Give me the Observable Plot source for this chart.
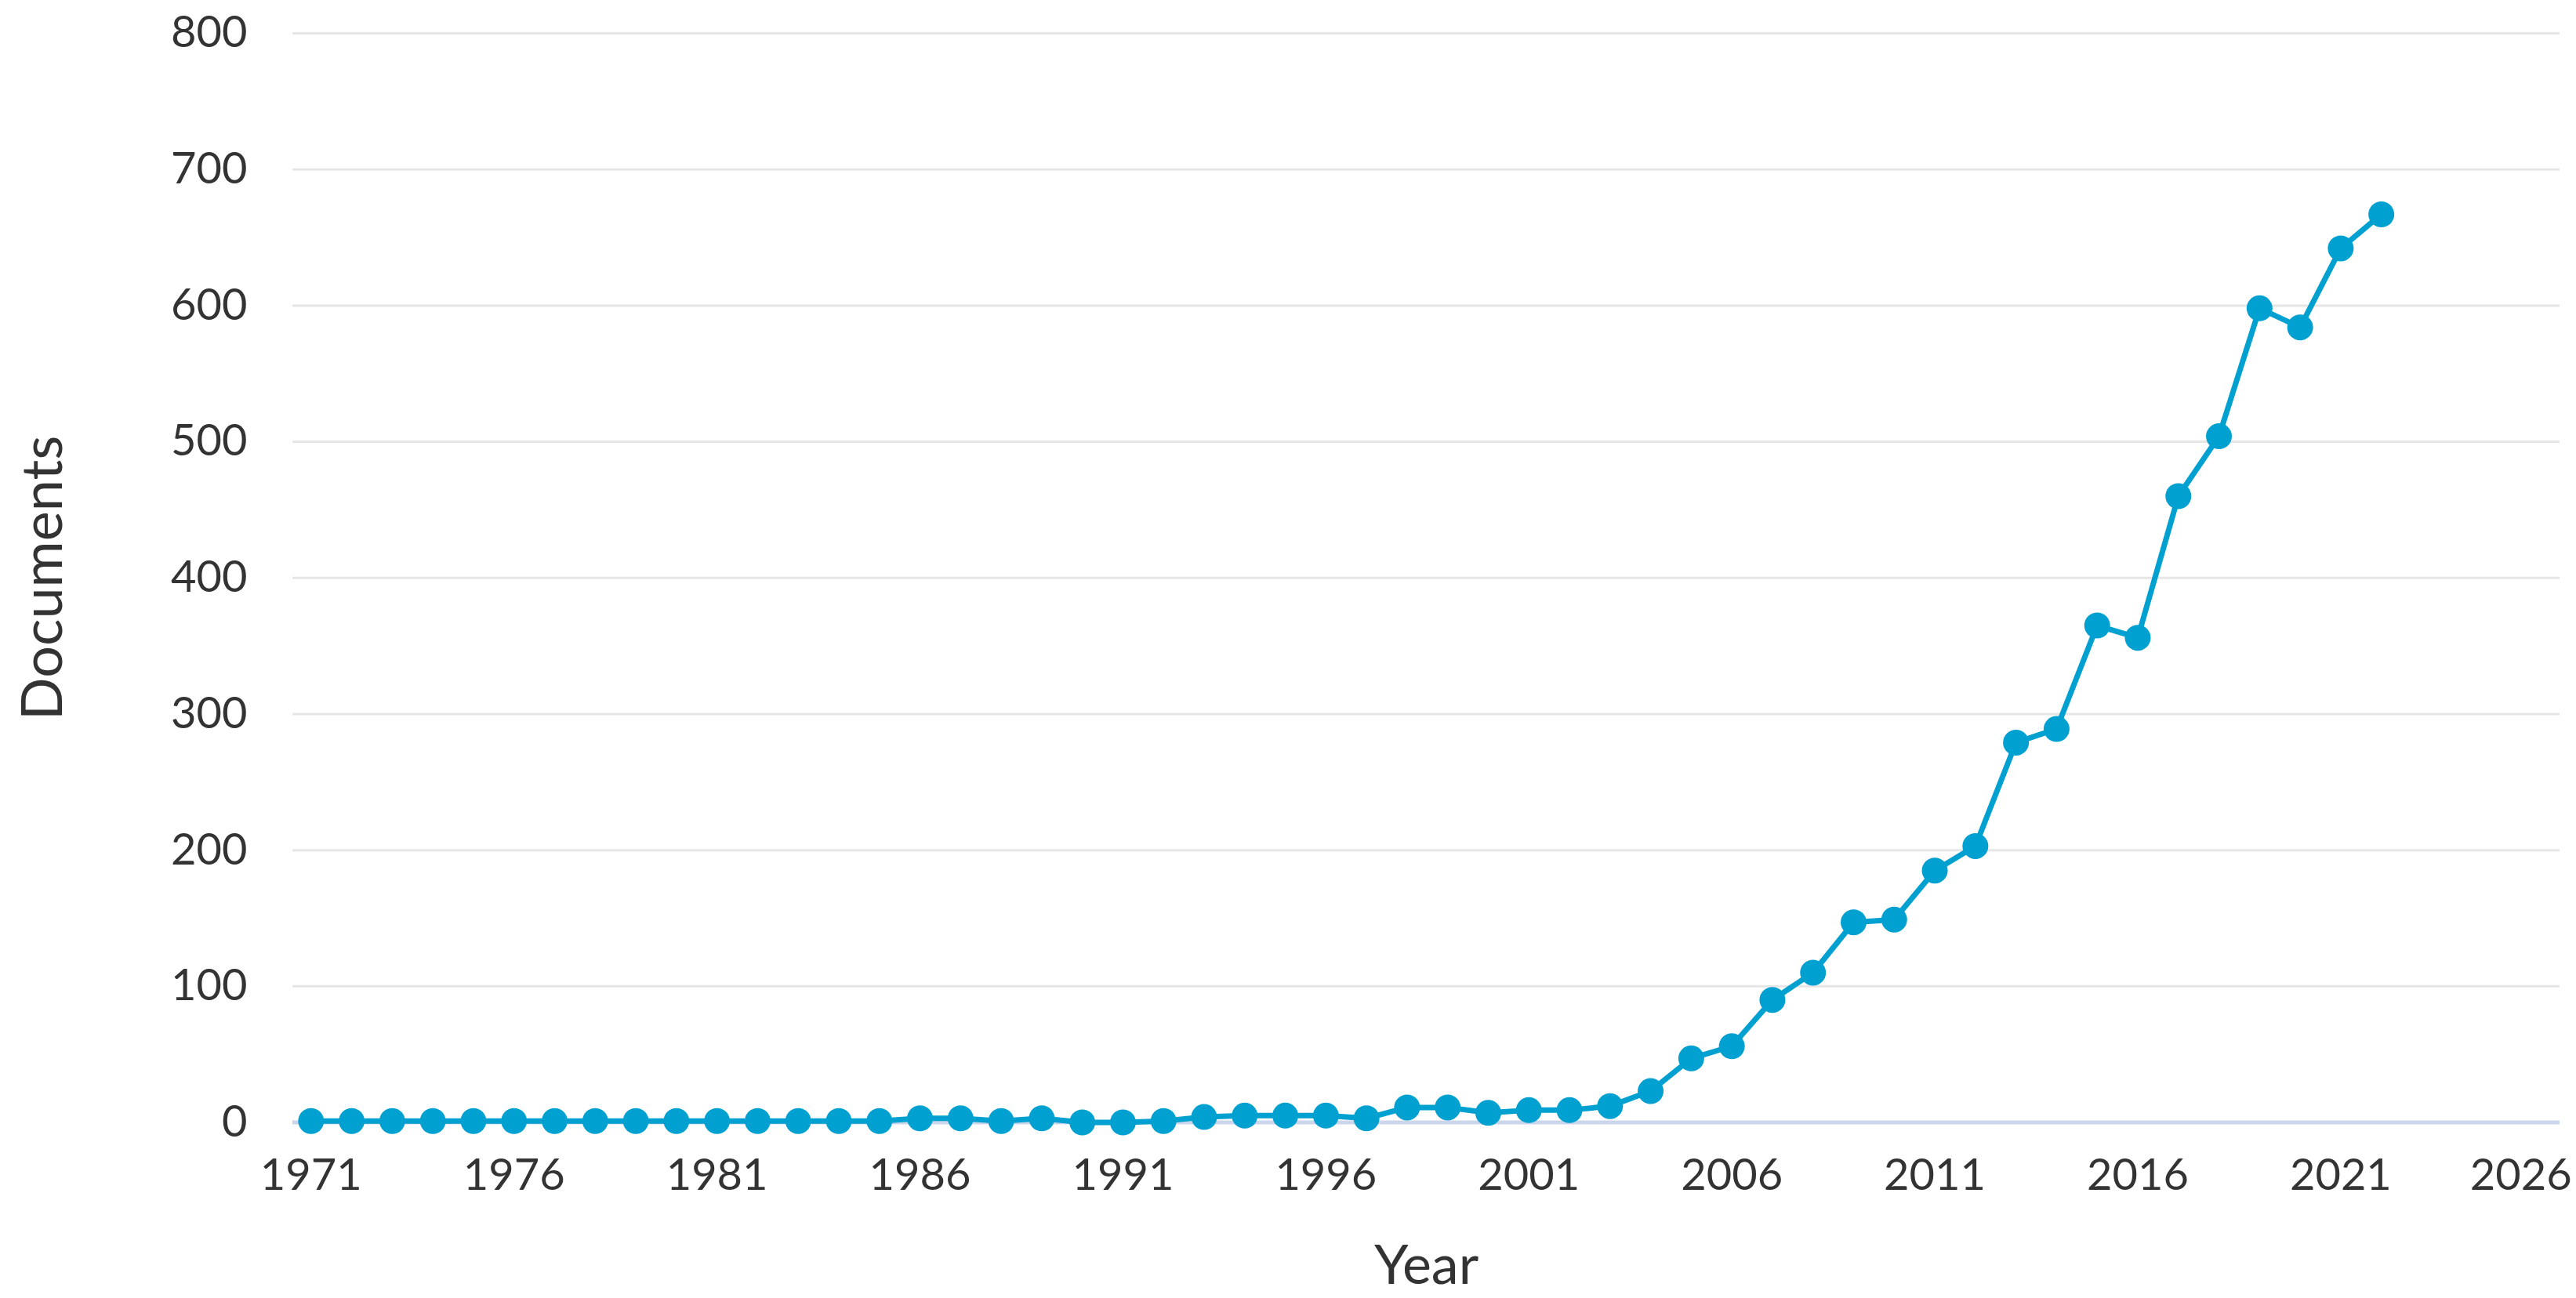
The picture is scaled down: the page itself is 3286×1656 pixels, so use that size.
<!DOCTYPE html>
<html>
<head>
<meta charset="utf-8">
<script src="https://cdn.jsdelivr.net/npm/d3@7"></script>
<script src="https://cdn.jsdelivr.net/npm/@observablehq/plot@0.6"></script>
<style>
  html, body { margin: 0; padding: 0; background: #ffffff; }
  #chart svg { display: block; }
</style>
</head>
<body>
<div id="chart"></div>
<script>
const years = [1971, 1972, 1973, 1974, 1975, 1976, 1977, 1978, 1979, 1980,
               1981, 1982, 1983, 1984, 1985, 1986, 1987, 1988, 1989, 1990,
               1991, 1992, 1993, 1994, 1995, 1996, 1997, 1998, 1999, 2000,
               2001, 2002, 2003, 2004, 2005, 2006, 2007, 2008, 2009, 2010,
               2011, 2012, 2013, 2014, 2015, 2016, 2017, 2018, 2019, 2020,
               2021, 2022];
const documents = [1, 1, 1, 1, 1, 1, 1, 1, 1, 1,
                   1, 1, 1, 1, 1, 3, 3, 1, 3, 0,
                   0, 1, 4, 5, 5, 5, 3, 11, 11, 7,
                   9, 9, 12, 23, 47, 56, 90, 110, 147, 149,
                   185, 203, 279, 289, 365, 356, 460, 504, 598, 584,
                   642, 667];
const xTicks = [1971, 1976, 1981, 1986, 1991, 1996, 2001, 2006, 2011, 2016, 2021, 2026];
const yTicks = [0, 100, 200, 300, 400, 500, 600, 700, 800];
const xTitle = "Year";
const yTitle = "Documents";

const data = years.map((y, i) => ({year: y, value: documents[i]}));

const lineColor = "#00a0d0";
const textColor = "#333333";

const chart = Plot.plot({
  width: 3286,
  height: 1656,
  marginLeft: 373,
  marginRight: 21,
  marginTop: 42,
  marginBottom: 224.5,
  style: {fontFamily: "Lato, 'Open Sans', sans-serif", fontSize: "56px", color: textColor, background: "#ffffff"},
  x: {domain: [1970.55, 2026.4]},
  y: {domain: [0, 800]},
  marks: [
    Plot.ruleY(yTicks, {stroke: "#e6e6e6", strokeWidth: 3}),
    Plot.ruleY([0], {stroke: "#ccd6eb", strokeWidth: 5}),
    Plot.axisY({ticks: yTicks, tickSize: 0, tickPadding: 58, label: null, tickFormat: "d", fill: textColor, fontSize: 56}),
    Plot.axisX({ticks: xTicks.slice(0, -1), tickSize: 0, tickPadding: 46, label: null, tickFormat: "d", fill: textColor, fontSize: 56}),
    Plot.axisX({ticks: xTicks.slice(-1), tickSize: 0, tickPadding: 46, label: null, tickFormat: "d", fill: textColor, fontSize: 56, textAnchor: "end", dx: 36}),
    Plot.line(data, {x: "year", y: "value", stroke: lineColor, strokeWidth: 7, strokeLinejoin: "round"}),
    Plot.dot(data, {x: "year", y: "value", r: 16.5, fill: lineColor, stroke: null}),
    Plot.text([xTitle], {frameAnchor: "bottom", textAnchor: "middle", lineAnchor: "bottom", dy: 205.5, fontSize: 70, fill: textColor}),
    Plot.text([yTitle], {frameAnchor: "left", textAnchor: "middle", lineAnchor: "bottom", rotate: -90, dx: -295, fontSize: 72, fill: textColor})
  ]
});
document.getElementById("chart").appendChild(chart);
</script>
</body>
</html>
